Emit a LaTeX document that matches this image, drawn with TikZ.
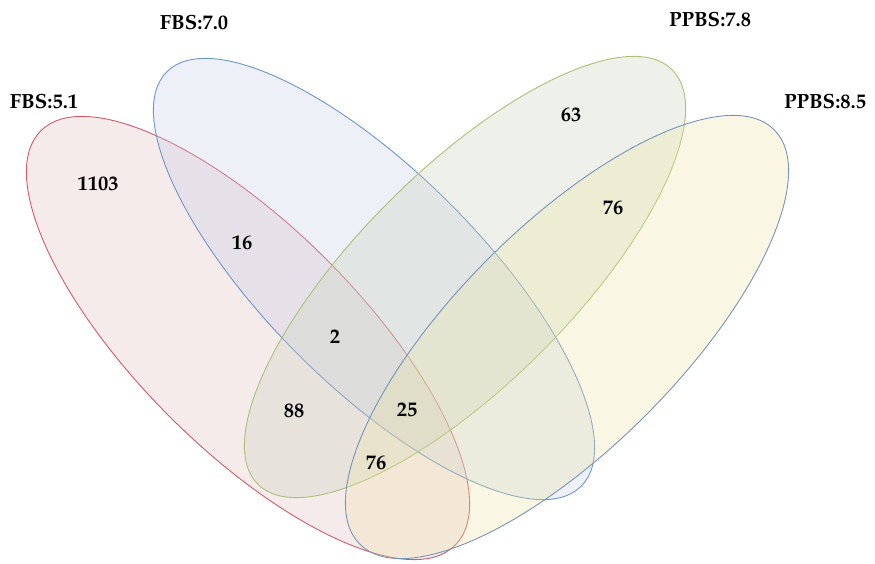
\documentclass[tikz,border=0pt]{standalone}
\usepackage[T1]{fontenc}
\renewcommand{\rmdefault}{ppl}
\begin{document}
\definecolor{redline}{RGB}{208,92,104}
\definecolor{redfill}{RGB}{225,188,190}
\definecolor{blueline}{RGB}{112,150,200}
\definecolor{bluefill}{RGB}{195,205,230}
\definecolor{greenline}{RGB}{172,192,118}
\definecolor{greenfill}{RGB}{198,208,186}
\definecolor{yellowline}{RGB}{118,148,186}
\definecolor{yellowfill}{RGB}{234,228,162}
\begin{tikzpicture}[x=1pt,y=1pt,
  setshape/.style={line width=0.9pt, fill opacity=0.3},
  count/.style={font=\fontsize{20.5}{24}\selectfont\bfseries, inner sep=0pt, text=black},
  setname/.style={font=\fontsize{20.5}{24}\selectfont\bfseries, inner sep=0pt, text=black}]
\useasboundingbox (0,0) rectangle (875,563);
% the four sets, drawn as tilted ellipses
\draw[setshape, draw=redline, fill=redfill, rotate around={-45:(248,225)}]
  (248,225) ellipse [x radius=293pt, y radius=111pt];
\draw[setshape, draw=blueline, fill=bluefill, rotate around={-45:(374,284)}]
  (374,284) ellipse [x radius=293pt, y radius=107pt];
\draw[setshape, draw=greenline, fill=greenfill, rotate around={45:(465,286)}]
  (465,286) ellipse [x radius=293pt, y radius=107pt];
\draw[setshape, draw=yellowline, fill=yellowfill, rotate around={45:(567,226)}]
  (567,226) ellipse [x radius=293pt, y radius=111pt];
% set names
\node[setname] (fbsA) at (44,462) {FBS:5.1};
\node[setname] (fbsB) at (194,541) {FBS:7.0};
\node[setname] (ppbsA) at (710,544) {PPBS:7.8};
\node[setname] (ppbsB) at (825,462) {PPBS:8.5};
% region counts
\node[count] (n1103) at (98,379) {1103};
\node[count] (n16) at (242,320) {16};
\node[count] (n63) at (571,448) {63};
\node[count] (n76a) at (613,355) {76};
\node[count] (n2) at (335,226) {2};
\node[count] (n88) at (294,152) {88};
\node[count] (n25) at (407,153) {25};
\node[count] (n76b) at (376,100) {76};
\end{tikzpicture}
\end{document}
